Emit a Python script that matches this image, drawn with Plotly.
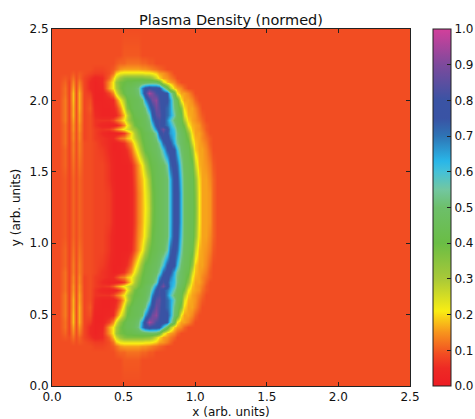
import numpy as np
import plotly.graph_objects as go

X_COLS = [0, .05, .09, .12, .15, .17, .19, .22, .265, .30, .35, .40,
          .425, .45, .475, .50, .525, .55, .575, .60, .625, .65, .675, .70, .725, .75, .775,
          .80, .825, .85, .875, .90, .925, .95, .975, 1.0, 1.025, 1.05, 1.075, 1.10, 1.125, 1.15, 2.5]

Y_UPPER = [1.25, 1.35, 1.45, 1.55, 1.65, 1.70, 1.74, 1.77, 1.80, 1.83, 1.86, 1.90, 1.95,
           2.00, 2.05, 2.09, 2.13, 2.16, 2.19, 2.22, 2.26, 2.32, 2.50]

# Density in hundredths, read by eye; each row lists x columns from the left, trailing cells are background
DENSITY_UPPER = [
 [9,9,10,8,11,9,11,9,9,8,8,7, 5,3,3,3,3,4,7,13,17,21,27,37,43,45,47,50,62,77,78,62,48,45,44,37,21,16,16,15,11],
 [9,9,10,8,11,9,11,9,9,8,8,7, 5,3,3,3,3,4,7,13,17,22,28,38,43,45,47,50,62,77,78,62,48,45,44,36,21,16,16,15,11],
 [9,9,10,8,11,9,11,9,9,8,8,6, 4,3,3,3,3,4,8,14,18,23,31,40,44,45,47,50,63,77,76,60,48,45,44,34,20,16,16,14,11],
 [9,9,11,8,12,9,12,9,9,8,8,6, 4,3,3,3,3,5,9,15,21,29,38,42,44,46,48,55,72,78,72,56,47,45,42,27,17,16,15,13,10],
 [9,9,11,8,13,9,13,9,9,8,7,5, 3,3,3,4,6,11,17,24,34,41,43,45,47,50,60,74,78,76,62,50,46,44,34,19,16,16,14,11],
 [9,9,12,8,13,9,13,9,9,8,6,5, 3,3,4,6,10,15,21,29,38,42,44,46,48,55,72,78,76,64,54,48,45,42,26,18,16,15,13,10],
 [9,9,12,8,14,9,14,8,9,7,6,5, 5,8,12,14,18,21,26,33,40,43,45,47,52,66,78,80,70,62,52,48,45,38,22,17,16,14,12,10],
 [9,9,12,8,14,9,14,8,9,7,5,3, 3,3,4,7,13,20,28,36,41,43,45,48,56,74,82,76,66,62,52,47,44,34,20,16,16,14,11],
 [9,9,12,8,15,9,15,8,9,7,6,7, 10,14,18,22,25,29,32,38,42,45,48,54,68,80,88,78,66,60,50,46,42,28,18,16,15,13,10],
 [9,9,12,8,15,9,15,8,9,6,4,3, 3,4,8,14,22,30,38,42,44,45,49,60,76,82,76,70,64,55,47,44,38,22,17,16,15,12,10],
 [9,9,13,8,16,9,16,8,9,6,6,6, 8,12,16,21,28,36,40,42,44,46,52,68,80,82,78,68,60,50,46,43,30,19,16,15,13,11],
 [9,9,13,8,17,9,16,8,9,5,3,3, 3,5,10,18,27,37,42,44,45,47,56,74,84,86,76,72,66,56,46,42,24,17,16,15,12,10],
 [9,9,13,8,17,9,17,8,10,4,3,3, 4,7,14,24,36,42,44,45,46,52,68,78,88,84,76,72,66,52,46,36,20,16,16,14,11],
 [9,9,13,8,18,9,17,8,9,3,3,4, 5,12,21,30,40,43,44,45,50,66,78,88,92,82,76,76,66,50,44,21,16,16,14,11],
 [9,9,12,8,18,9,17,8,7,3,3,8, 14,24,34,41,44,45,46,50,66,80,95,90,82,80,78,74,58,44,21,16,16,14,11],
 [9,9,12,8,16,9,15,8,5,3,4,16, 21,30,38,42,44,45,47,52,68,76,80,78,78,76,60,45,30,19,16,14,11],
 [9,9,11,8,14,9,13,8,5,3,5,15, 21,32,38,40,42,42,43,44,45,46,47,48,47,42,25,18,16,14,11],
 [9,9,10,9,12,9,11,8,6,4,5,11, 18,26,32,36,37,37,37,37,37,36,35,32,26,20,16,15,13,11],
 [9,9,9,9,10,9,10,9,8,7,7,9, 12,19,22,23,23,23,23,23,23,22,22,21,19,16,15,13,11],
 [9,9,9,9,9,9,9,9,9,8,8,9, 10,12,15,16,16,16,16,16,15,15,14,13,12,11,10],
 [9,9,9,9,9,9,9,9,9,9,9,9, 9,10,11,11,12,12,12,12,11,11,10,10],
 [9,9,9,9,9,9,9,9,9,9,9,9, 9,9,9,10,10,10,10,10],
 [9],
]

COLOR_STOPS = [
 (0.00, "#ed1c24"), (0.05, "#ee2a24"), (0.09, "#f24d22"), (0.15, "#f7941d"), (0.21, "#f9ed13"),
 (0.30, "#a9c938"), (0.40, "#6abd45"), (0.50, "#6dbf6a"), (0.55, "#72c7a0"), (0.60, "#45c1d8"),
 (0.63, "#29b6e8"), (0.70, "#2e74b5"), (0.75, "#3953a4"), (0.80, "#3a53a4"), (0.90, "#7d4a9c"),
 (1.00, "#d33f9b"),
]

X_TICKS = [0.0, 0.5, 1.0, 1.5, 2.0, 2.5]
BAR_TICKS = [0.0, 0.1, 0.2, 0.3, 0.4, 0.5, 0.6, 0.7, 0.8, 0.9, 1.0]

rows = [r + [9] * (len(X_COLS) - len(r)) for r in DENSITY_UPPER]
y = [round(2.5 - v, 3) for v in reversed(Y_UPPER[1:])] + Y_UPPER
z = np.array(list(reversed(rows[1:])) + rows) / 100

FONT = "DejaVu Sans"
axis = dict(range=[0, 2.5], tickvals=X_TICKS, tickformat=".1f", ticks="inside", ticklen=4, tickwidth=1,
            tickcolor="#222", showline=True, linecolor="#222", linewidth=1, mirror="ticks",
            showgrid=False, zeroline=False, automargin=False, tickfont=dict(size=12, color="#111"))

fig = go.Figure(go.Heatmap(
    x=X_COLS, y=y, z=z, zmin=0, zmax=1, zsmooth="best",
    colorscale=[[a, b] for a, b in COLOR_STOPS],
    colorbar=dict(x=1.064, xanchor="left", xpad=0, y=0, yanchor="bottom", ypad=0, len=1,
                  thickness=18, outlinewidth=1, outlinecolor="#222",
                  tickvals=BAR_TICKS, tickformat=".1f", ticks="inside", ticklen=4, tickcolor="#222",
                  tickfont=dict(size=12, color="#111")),
))
fig.update_layout(
    width=475, height=419, margin=dict(l=52, r=65, t=29, b=33, autoexpand=False),
    paper_bgcolor="white", plot_bgcolor="white", font=dict(family=FONT, color="#111"),
    title=dict(text="Plasma Density (normed)", x=0.5, xref="paper", xanchor="center",
               y=1, yref="paper", yanchor="bottom", pad=dict(b=4), automargin=False, font=dict(size=14.5)),
    xaxis=dict(axis, title=dict(text="x (arb. units)", standoff=5, font=dict(size=12))),
    yaxis=dict(axis, title=dict(text="y (arb. units)", standoff=6, font=dict(size=12))),
)
fig.write_html("out.html", config=dict(displayModeBar=False),
               post_script="document.body.style.margin='0';document.body.style.overflow='hidden';")
